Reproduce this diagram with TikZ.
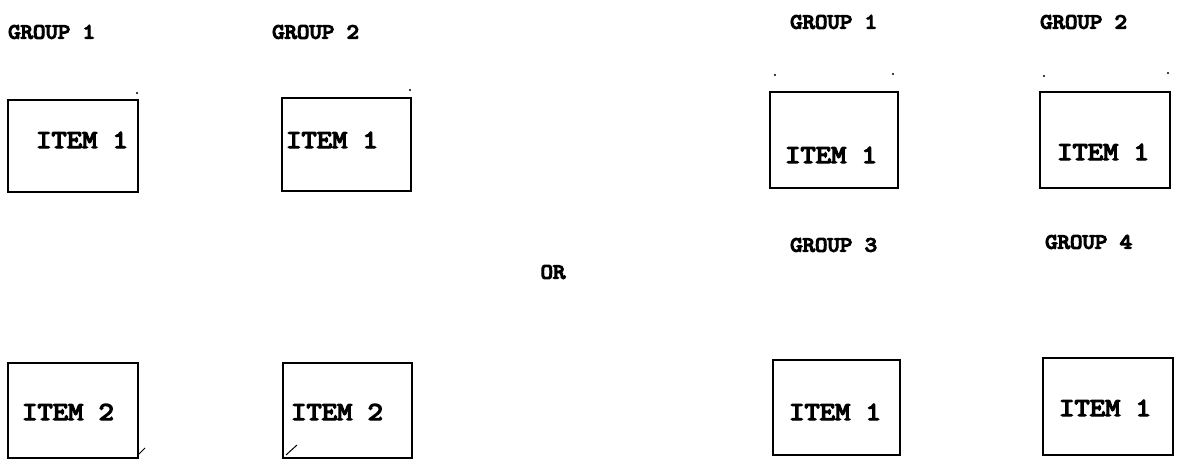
\documentclass[tikz,border=0pt]{standalone}
\font\grpfnt="[lmmono10-regular]:extend=1.1" at 21.5pt
\font\itmfnt="[lmmono10-regular]:extend=1.12" at 26pt
\newcommand\heavyink{\special{pdf:code 2 Tr 1.3 w}}
\begin{document}
\begin{tikzpicture}[x=1pt,y=-1pt,
  grp/.style={font=\grpfnt, inner sep=0pt, anchor=west, execute at begin node=\heavyink},
  itm/.style={font=\itmfnt, inner sep=0pt, anchor=west, execute at begin node=\heavyink},
  itembox/.style={draw=black, line width=2.8pt, inner sep=0pt},
  speck/.style={fill=black, inner sep=0pt, minimum size=2.4pt, circle}]
\useasboundingbox (0,0) rectangle (1184,470);
% left groups
\node[grp] (g1l) at (8,32) {GROUP 1};
\node[grp] (g2l) at (272,32) {GROUP 2};
\draw[itembox] (8,100) rectangle (138,192);
\node[itm] (i1a) at (36,140) {ITEM 1};
\draw[itembox] (282,98) rectangle (411,191);
\node[itm] (i1b) at (286,140) {ITEM 1};
\draw[itembox] (8,363) rectangle (138,458);
\node[itm] (i2a) at (22,412) {ITEM 2};
\draw[itembox] (283,363) rectangle (412,458);
\node[itm] (i2b) at (291,412) {ITEM 2};
% or
\node[grp, anchor=center] (or) at (553,272) {OR};
% right groups
\node[grp] (g1r) at (790,22) {GROUP 1};
\node[grp] (g2r) at (1040,22) {GROUP 2};
\node[grp] (g3r) at (790,245) {GROUP 3};
\node[grp] (g4r) at (1045,242) {GROUP 4};
\draw[itembox] (770,92) rectangle (898,188);
\node[itm] (i1c) at (785,155) {ITEM 1};
\draw[itembox] (1040,92) rectangle (1170,188);
\node[itm] (i1d) at (1057,152) {ITEM 1};
\draw[itembox] (773,360) rectangle (900,455);
\node[itm] (i1e) at (789,412) {ITEM 1};
\draw[itembox] (1043,358) rectangle (1173,455);
\node[itm] (i1f) at (1059,408) {ITEM 1};
% small marks of the original
\node[speck] (s1) at (137,93) {};
\node[speck] (s2) at (410,90) {};
\node[speck] (s3) at (775,75) {};
\node[speck] (s4) at (893,74) {};
\node[speck] (s5) at (1044,76) {};
\node[speck] (s6) at (1168,73) {};
\coordinate (t1a) at (286,455); \coordinate (t1b) at (297,445);
\draw[line width=1pt] (t1a) -- (t1b);
\coordinate (t2a) at (139,454); \coordinate (t2b) at (145,448);
\draw[line width=1pt] (t2a) -- (t2b);
\end{tikzpicture}
\end{document}
